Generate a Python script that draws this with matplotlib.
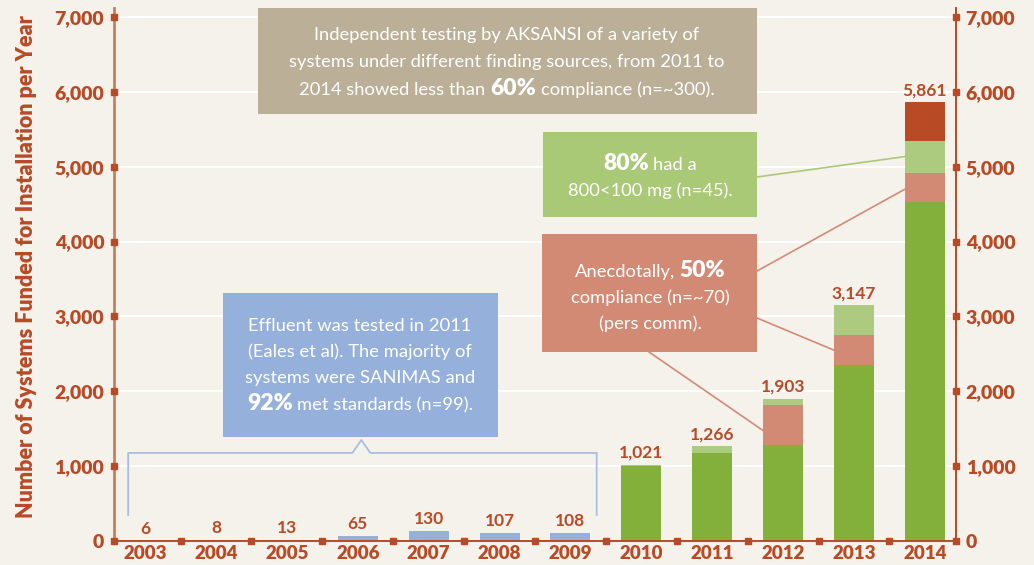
import matplotlib
matplotlib.use("Agg")
import matplotlib.pyplot as plt
import matplotlib.transforms as mtransforms
from matplotlib.patches import Rectangle, ConnectionPatch
import numpy as np

# ---- data -------------------------------------------------------------
years = ["2003", "2004", "2005", "2006", "2007", "2008", "2009",
         "2010", "2011", "2012", "2013", "2014"]
early_systems = [6, 8, 13, 65, 130, 107, 108, 0, 0, 0, 0, 0]
funded_green = [0, 0, 0, 0, 0, 0, 0, 1000, 1175, 1280, 2350, 4530]
anecdotal = [0, 0, 0, 0, 0, 0, 0, 0, 0, 535, 400, 390]
tested_80 = [0, 0, 0, 0, 0, 0, 0, 21, 91, 88, 397, 430]
other_2014 = [0, 0, 0, 0, 0, 0, 0, 0, 0, 0, 0, 511]
totals = [6, 8, 13, 65, 130, 107, 108, 1021, 1266, 1903, 3147, 5861]
y_ticks = [0, 1000, 2000, 3000, 4000, 5000, 6000, 7000]

# ---- style ------------------------------------------------------------
BG = "#F5F2EB"
RUST = "#B84A26"
RUST_LIGHT = "#CB7D5E"
BLUE = "#96B0DC"
GREEN = "#83B03A"
LIGHT_GREEN = "#ADCB7E"
SALMON = "#D38A75"
TAN = "#BBAF97"
BRACKET = "#A9BDE3"

plt.rcParams["font.family"] = ["Lato", "DejaVu Sans"]

W, H = 1034, 565
fig = plt.figure(figsize=(W / 100, H / 100), dpi=100)
fig.patch.set_facecolor(BG)
ax = fig.add_axes([114 / W, 24 / H, 842 / W, 533 / H])
ax.set_facecolor(BG)

x = np.arange(len(years))
bw = 0.565
g = np.array(funded_green)
s = np.array(anecdotal)
lg = np.array(tested_80)
dr = np.array(other_2014)

ax.bar(x, early_systems, bw, color=BLUE, zorder=2)
ax.bar(x, g, bw, color=GREEN, zorder=2)
ax.bar(x, s, bw, bottom=g, color=SALMON, zorder=2)
ax.bar(x, lg, bw, bottom=g + s, color=LIGHT_GREEN, zorder=2)
ax.bar(x, dr, bw, bottom=g + s + lg, color=RUST, zorder=2)

for xi, t in zip(x, totals):
    ax.annotate(f"{t:,}", (xi, t), xytext=(0, 5), textcoords="offset points",
                ha="center", va="baseline", fontsize=12.5, fontweight="bold",
                color=RUST, zorder=3)

ax.set_xlim(-0.44, 11.44)
ax.set_ylim(0, 7120)

# grid
for yv in y_ticks[1:]:
    ax.axhline(yv, color="white", lw=1.5, zorder=0.5)

# spines
ax.spines["top"].set_visible(False)
ax.spines["left"].set_color(RUST_LIGHT)
ax.spines["left"].set_linewidth(2)
ax.spines["right"].set_color(RUST)
ax.spines["right"].set_linewidth(1.4)
ax.spines["bottom"].set_color(RUST)
ax.spines["bottom"].set_linewidth(1.4)

# ticks
ax.set_yticks(y_ticks)
ax.set_yticklabels([f"{v:,}" for v in y_ticks], fontweight="heavy",
                   fontsize=14, color=RUST)
ax.tick_params(axis="y", length=0, pad=7, labelright=True, right=True)
for tk in ax.yaxis.get_major_ticks():
    tk.label2.set_fontweight("heavy")
    tk.label2.set_fontsize(14)
    tk.label2.set_color(RUST)
ax.set_xticks(x)
ax.set_xticklabels(years, fontweight="heavy", fontsize=13.5, color=RUST)
ax.tick_params(axis="x", length=0, pad=3)

# square tick markers on the spines
yt = mtransforms.blended_transform_factory(ax.transAxes, ax.transData)
for side in (0, 1):
    ax.plot([side] * len(y_ticks), y_ticks, "s", ms=4.6, color=RUST,
            transform=yt, clip_on=False, zorder=5)
ax.plot(x[:-1] + 0.5, [0] * (len(x) - 1), "s", ms=4.6, color=RUST,
        clip_on=False, zorder=5)

ax.set_ylabel("Number of Systems Funded for Installation per Year",
              fontsize=15.5, fontweight="heavy", color=RUST)
ax.yaxis.set_label_coords(-0.0915, 0.515)

# ---- callout boxes ----------------------------------------------------
def fxy(px, py):
    return px / W, 1 - py / H


def box(x0, y0, x1, y1, color):
    fig.patches.append(Rectangle(fxy(x0, y1), (x1 - x0) / W, (y1 - y0) / H,
                                 transform=fig.transFigure, facecolor=color,
                                 edgecolor="none", zorder=4))


renderer = fig.canvas.get_renderer()
REG = dict(fontsize=13.2, fontweight="normal")
BOLD = dict(fontsize=16.5, fontweight="heavy")
probe = fig.text(0, 0, "a a", **REG)
w2 = probe.get_window_extent(renderer).width
probe.set_text("aa")
space_w = w2 - probe.get_window_extent(renderer).width
probe.remove()


def rich_line(cx, base_y, parts):
    items = []
    total = 0
    for i, (txt, kw) in enumerate(parts):
        t = fig.text(0, 0, txt, ha="left", va="baseline", color="white",
                     zorder=6, **kw)
        w = t.get_window_extent(renderer).width
        items.append((t, w))
        total += w + (space_w if i else 0)
    xp = cx - total / 2
    for i, (t, w) in enumerate(items):
        if i:
            xp += space_w
        t.set_position(fxy(xp, base_y))
        xp += w


# AKSANSI box
box(258, 8, 757, 114, TAN)
rich_line(507, 40, [("Independent testing by AKSANSI of a variety of", REG)])
rich_line(507, 67, [("systems under different finding sources, from 2011 to", REG)])
rich_line(507, 95, [("2014 showed less than", REG), ("60%", BOLD),
                    ("compliance (n=~300).", REG)])

# 80% box
box(543, 132, 757, 217, "#A9C977")
rich_line(650, 170, [("80%", BOLD), ("had a", REG)])
rich_line(650, 196, [("800<100 mg (n=45).", REG)])

# 50% box
box(542, 234, 757, 352, SALMON)
rich_line(650, 277, [("Anecdotally,", REG), ("50%", BOLD)])
rich_line(650, 303, [("compliance (n=~70)", REG)])
rich_line(650, 329, [("(pers comm).", REG)])

# 92% box
box(223, 293, 498, 437, BLUE)
rich_line(360, 331, [("Effluent was tested in 2011", REG)])
rich_line(360, 357, [("(Eales et al). The majority of", REG)])
rich_line(360, 383, [("systems were SANIMAS and", REG)])
rich_line(360, 410, [("92%", BOLD), ("met standards (n=99).", REG)])

# bracket over the early years
bx0, bx1, by, bdrop = -0.24, 6.37, 1176, 347
cx, cw, cy = 3.05, 0.127, 1349
ax.plot([bx0, bx0, cx - cw, cx, cx + cw, bx1, bx1],
        [bdrop, by, by, cy, by, by, bdrop],
        color=BRACKET, lw=1.3, zorder=3, clip_on=False)


# connector lines from boxes to bar segments
def connect(box_pt, data_pt, color):
    cp = ConnectionPatch(xyA=fxy(*box_pt), coordsA=fig.transFigure,
                         xyB=data_pt, coordsB=ax.transData,
                         color=color, lw=1.2, zorder=3)
    fig.add_artist(cp)


i14, i13, i12 = 11, 10, 9
connect((757, 177), (i14 - bw / 2, g[i14] + s[i14] + 0.5 * lg[i14]), "#A9C977")
connect((757, 271), (i14 - bw / 2 + 0.05, g[i14] + 0.5 * s[i14]), SALMON)
connect((757, 318), (i13 - bw / 2, g[i13] + 0.5 * s[i13]), SALMON)
connect((649, 352), (i12 - bw / 2 + 0.03, g[i12] + 0.33 * s[i12]), SALMON)

fig.savefig("out.png", dpi=100, facecolor=BG)
